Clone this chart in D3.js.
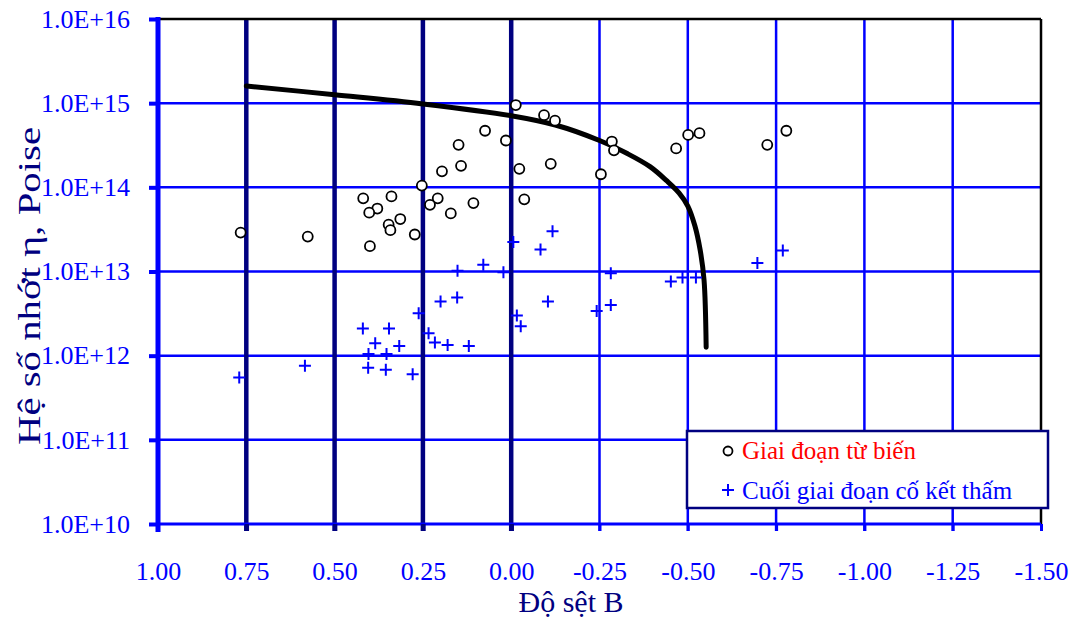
<!DOCTYPE html>
<html>
<head>
<meta charset="utf-8">
<script src="https://cdn.jsdelivr.net/npm/d3@7"></script>
<style>
  body { margin: 0; background: #fff; }
  svg text { font-family: "Liberation Serif", "Times New Roman", serif; }
</style>
</head>
<body>
<svg width="1073" height="619"></svg>
<script>
// do set B vs viscosity (Poise)
var tuBienB = [0.766, 0.576, 0.419, 0.339, 0.379, 0.402, 0.314, 0.347, 0.342, 0.400, 0.273, 0.253,
  0.208, 0.230, 0.171, 0.107, 0.196, 0.142, 0.149, 0.074, 0.015, -0.013, -0.093, -0.124, -0.023,
  -0.112, -0.037, -0.254, -0.285, -0.291, -0.467, -0.501, -0.533, -0.725, -0.779];
var tuBienEta = [2.9e13, 2.6e13, 7.4e13, 7.8e13, 5.6e13, 5.0e13, 4.2e13, 3.6e13, 3.1e13, 2.0e13, 2.75e13, 1.05e14,
  7.4e13, 6.2e13, 4.9e13, 6.5e13, 1.55e14, 1.8e14, 3.2e14, 4.7e14, 3.6e14, 9.5e14, 7.2e14, 6.2e14, 1.66e14,
  1.9e14, 7.2e13, 1.43e14, 3.5e14, 2.75e14, 2.9e14, 4.2e14, 4.4e14, 3.2e14, 4.7e14];

var coKetB = [0.770, 0.584, 0.420, 0.346, 0.385, 0.317, 0.404, 0.353, 0.405, 0.355, 0.279, 0.262,
  0.234, 0.216, 0.180, 0.120, 0.200, 0.153, 0.152, 0.079, 0.022, -0.006, -0.083, -0.117, -0.016,
  -0.027, -0.104, -0.282, -0.242, -0.282, -0.452, -0.485, -0.523, -0.697, -0.769];
var coKetEta = [5.5e11, 7.6e11, 2.1e12, 2.1e12, 1.4e12, 1.3e12, 1.05e12, 1.05e12, 7.2e11, 6.8e11, 6.0e11, 3.2e12,
  1.85e12, 1.43e12, 1.34e12, 1.3e12, 4.4e12, 4.9e12, 1.02e13, 1.2e13, 9.8e12, 2.24e13, 1.82e13, 3.0e13, 3.0e12,
  2.24e12, 4.4e12, 9.5e12, 3.4e12, 4.0e12, 7.6e12, 8.5e12, 8.5e12, 1.26e13, 1.78e13];

// duong bao (black curve)
var curveB = [0.75, 0.5, 0.25, 0.0, -0.125, -0.25, -0.33, -0.393, -0.44, -0.475, -0.50, -0.52, -0.535, -0.546, -0.552];
var curveEta = [1.6e15, 1.26e15, 9.8e14, 7.1e14, 5.5e14, 3.6e14, 2.5e14, 1.76e14, 1.2e14, 8.6e13, 6.0e13, 3.5e13, 1.8e13, 7.9e12, 1.26e12];

var xTicks = [1.00, 0.75, 0.50, 0.25, 0.00, -0.25, -0.50, -0.75, -1.00, -1.25, -1.50];
var yTicks = [1e10, 1e11, 1e12, 1e13, 1e14, 1e15, 1e16];
var navyLines = [0.75, 0.50, 0.25, 0.00];

var svg = d3.select("svg");
var pLeft = 158, pRight = 1041, pTop = 19, pBottom = 524;

var x = d3.scaleLinear().domain([1, -1.5]).range([pLeft, pRight]);
var y = d3.scaleLog().domain([1e10, 1e16]).range([pBottom, pTop]);

function isNavy(d) { return navyLines.indexOf(d) >= 0; }

// horizontal grid
svg.append("g").selectAll("line")
  .data(yTicks.slice(1, -1))
  .enter().append("line")
    .attr("x1", pLeft).attr("x2", pRight)
    .attr("y1", function(d){ return y(d); })
    .attr("y2", function(d){ return y(d); })
    .attr("stroke", "#0000ff").attr("stroke-width", 2.5);

// vertical grid
svg.append("g").selectAll("line")
  .data(xTicks.slice(1, -1))
  .enter().append("line")
    .attr("x1", function(d){ return x(d); })
    .attr("x2", function(d){ return x(d); })
    .attr("y1", pTop).attr("y2", pBottom + 7)
    .attr("stroke", function(d){ return isNavy(d) ? "#000080" : "#0000ff"; })
    .attr("stroke-width", function(d){ return isNavy(d) ? 4.5 : 2.5; });

// frame top / right
svg.append("line").attr("x1", pLeft).attr("x2", pRight).attr("y1", pTop).attr("y2", pTop)
  .attr("stroke", "#000").attr("stroke-width", 2.5);
svg.append("line").attr("x1", pRight).attr("x2", pRight).attr("y1", pTop).attr("y2", pBottom)
  .attr("stroke", "#000").attr("stroke-width", 2.5);

// axes
var xAxis = d3.axisBottom(x).tickValues(xTicks).tickSize(7).tickPadding(31)
  .tickFormat(function(d){ return (d < 0 ? "-" : "") + Math.abs(d).toFixed(2); });
var gx = svg.append("g").attr("transform", "translate(0," + pBottom + ")").call(xAxis);
gx.attr("font-family", null);
gx.select(".domain").attr("stroke", "#0000ff").attr("stroke-width", 3).attr("d", "M" + pLeft + ",0H" + pRight);
gx.selectAll(".tick line").attr("stroke", function(d){ return isNavy(d) ? "#000080" : "#0000ff"; })
  .attr("stroke-width", function(d){ return isNavy(d) ? 4.5 : 3; });
gx.selectAll("text").attr("fill", "#0000ff").attr("font-size", 26);

var yAxis = d3.axisLeft(y).tickValues(yTicks).tickSize(9).tickPadding(19)
  .tickFormat(function(d){ return "1.0E+" + Math.round(Math.log10(d)); });
var gy = svg.append("g").attr("transform", "translate(" + pLeft + ",0)").call(yAxis);
gy.attr("font-family", null);
gy.select(".domain").attr("stroke", "#0000ff").attr("stroke-width", 5).attr("d", "M0," + (pTop - 2) + "V" + (pBottom + 8));
gy.selectAll(".tick line").attr("stroke", "#0000ff").attr("stroke-width", 4);
gy.selectAll("text").attr("fill", "#0000ff").attr("font-size", 26);

// curve
var pts = curveB.map(function(b, i){ return [x(b), y(curveEta[i])]; });
svg.append("path")
  .attr("d", d3.line().curve(d3.curveCatmullRom.alpha(0.5))(pts))
  .attr("fill", "none").attr("stroke", "#000").attr("stroke-width", 5)
  .attr("stroke-linecap", "round").attr("stroke-linejoin", "round");

// circles
svg.append("g").selectAll("circle")
  .data(tuBienB)
  .enter().append("circle")
    .attr("cx", function(d){ return x(d); })
    .attr("cy", function(d, i){ return y(tuBienEta[i]); })
    .attr("r", 5)
    .attr("fill", "#fff").attr("stroke", "#000").attr("stroke-width", 1.8);

// plus markers
svg.append("g").selectAll("path")
  .data(coKetB)
  .enter().append("path")
    .attr("transform", function(d, i){ return "translate(" + x(d) + "," + y(coKetEta[i]) + ")"; })
    .attr("d", "M-6,0H6M0,-6V6")
    .attr("stroke", "#0000ff").attr("stroke-width", 2);

// legend
var lg = svg.append("g");
lg.append("rect").attr("x", 687).attr("y", 431).attr("width", 361).attr("height", 77)
  .attr("fill", "#fff").attr("stroke", "#000080").attr("stroke-width", 2.5);
lg.append("circle").attr("cx", 728).attr("cy", 451).attr("r", 4.5)
  .attr("fill", "#fff").attr("stroke", "#000").attr("stroke-width", 1.8);
lg.append("text").attr("x", 742).attr("y", 459).attr("font-size", 25).attr("fill", "#ff0000")
  .text("Giai đoạn từ biến");
lg.append("path").attr("transform", "translate(728,490)").attr("d", "M-6,0H6M0,-6V6")
  .attr("stroke", "#0000ff").attr("stroke-width", 2);
lg.append("text").attr("x", 742).attr("y", 499).attr("font-size", 25).attr("fill", "#0000ff")
  .text("Cuối giai đoạn cố kết thấm");

// axis titles
svg.append("text").attr("x", 571).attr("y", 612).attr("text-anchor", "middle")
  .attr("font-size", 30).attr("fill", "#000080").text("Độ sệt B");
svg.append("text").attr("transform", "translate(40,286) rotate(-90)").attr("text-anchor", "middle")
  .attr("font-size", 31).attr("fill", "#000080")
  .attr("textLength", 318).attr("lengthAdjust", "spacingAndGlyphs")
  .text("Hệ số nhớt η, Poise");
</script>
</body>
</html>
